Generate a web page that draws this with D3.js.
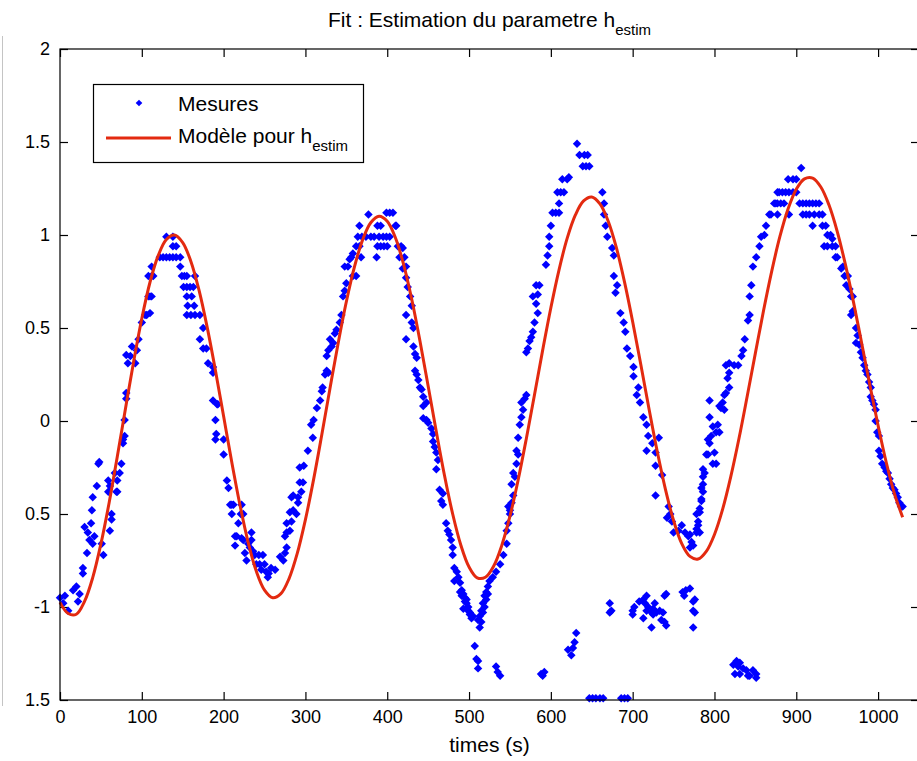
<!DOCTYPE html>
<html>
<head>
<meta charset="utf-8">
<script src="https://cdn.jsdelivr.net/npm/d3@7"></script>
<style>
  body { margin: 0; background: #fff; }
  svg { display: block; }
  text { font-family: Arial, "Liberation Sans", sans-serif; fill: #000; }
</style>
</head>
<body>
<svg></svg>
<script>
const width = 917;
const height = 761;

// ---- data ----
const xTicks = [0, 100, 200, 300, 400, 500, 600, 700, 800, 900, 1000];
const yTicks = [2, 1.5, 1, 0.5, 0, -0.5, -1, -1.5];
const yTickLabels = ['2', '1.5', '1', '0.5', '0', '0.5', '-1', '1.5'];

// fitted model h_estim, one value every 10 s
const modelTimes = [0, 10, 20, 30, 40, 50, 60, 70, 80, 90, 100, 110, 120, 130, 140, 150, 160, 170, 180, 190,
  200, 210, 220, 230, 240, 250, 260, 270, 280, 290, 300, 310, 320, 330, 340, 350, 360, 370, 380, 390,
  400, 410, 420, 430, 440, 450, 460, 470, 480, 490, 500, 510, 520, 530, 540, 550, 560, 570, 580, 590,
  600, 610, 620, 630, 640, 650, 660, 670, 680, 690, 700, 710, 720, 730, 740, 750, 760, 770, 780, 790,
  800, 810, 820, 830, 840, 850, 860, 870, 880, 890, 900, 910, 920, 930, 940, 950, 960, 970, 980, 990,
  1000, 1010, 1020, 1030];
const modelValues = [-0.975, -1.035, -1.039, -0.970, -0.842, -0.661, -0.441, -0.192, 0.066, 0.319,
  0.551, 0.746, 0.889, 0.976, 1.000, 0.959, 0.858, 0.702, 0.502, 0.272,
  0.025, -0.222, -0.452, -0.652, -0.808, -0.909, -0.950, -0.928, -0.847, -0.712,
  -0.530, -0.314, -0.074, 0.175, 0.418, 0.641, 0.830, 0.975, 1.067, 1.101,
  1.074, 0.985, 0.842, 0.653, 0.430, 0.188, -0.058, -0.293, -0.500, -0.668,
  -0.785, -0.843, -0.840, -0.781, -0.669, -0.512, -0.317, -0.095, 0.141, 0.381,
  0.609, 0.813, 0.983, 1.108, 1.183, 1.204, 1.167, 1.075, 0.933, 0.748,
  0.534, 0.302, 0.065, -0.163, -0.366, -0.535, -0.659, -0.728, -0.742, -0.701,
  -0.610, -0.474, -0.298, -0.093, 0.133, 0.365, 0.594, 0.806, 0.992, 1.141,
  1.246, 1.302, 1.306, 1.258, 1.161, 1.020, 0.842, 0.638, 0.417, 0.192,
  -0.024, -0.223, -0.391, -0.517];

// measurements [time, value], grouped by half-cycle
const mesRise1 = [[0,-0.95],[4,-0.98],[10,-1.02],[6,-0.94],[16,-0.91],[20,-0.89],[24,-0.93],[22,-0.97],
  [28,-0.79],[28,-0.82],[33,-0.71],[30,-0.57],[34,-0.6],[38,-0.55],[36,-0.64],[42,-0.62],[40,-0.66],
  [39,-0.48],[40,-0.41],[45,-0.35],[47,-0.23],[48,-0.22],[51,-0.66],[53,-0.72],[59,-0.32],[59,-0.38],
  [63,-0.5],[63,-0.53],[61,-0.59],[70,-0.38],[70,-0.32],[73,-0.28],[75,-0.23],[77,-0.12],[79,-0.08],
  [67,-0.28],[69,-0.38],[61,-0.35],[77,-0.1],[79,0.005],[81,0.15],[81,0.12],[81,0.355],[86,0.35],
  [88,0.40],[83,0.31],[92,0.31],[94,0.38],[96,0.44],[100,0.53],[104,0.57],[106,0.57],[110,0.58],
  [108,0.67],[110,0.67],[112,0.67],[108,0.78],[112,0.78],[114,0.78],[112,0.83],[122,0.88],[126,0.88],
  [130,0.88],[134,0.88],[138,0.88],[142,0.88],[147,0.88],[130,0.99],[138,0.99],[138,0.94],[142,0.94]];
const mesFall1 = [[147,0.83],[149,0.78],[152,0.78],[155,0.78],[151,0.72],[155,0.72],[159,0.72],[163,0.72],
  [155,0.67],[161,0.67],[156,0.62],[164,0.62],[155,0.57],[160,0.57],[165,0.57],[171,0.57],[165,0.78],
  [175,0.50],[171,0.44],[175,0.39],[179,0.39],[181,0.31],[187,0.29],[187,0.26],[187,0.11],[192,0.09],
  [193,0.09],[190,0.005],[191,-0.07],[190,-0.10],[200,-0.10],[200,-0.18],[204,-0.32],[206,-0.36],
  [208,-0.45],[210,-0.45],[212,-0.45],[210,-0.50],[222,-0.45],[221,-0.50],[224,-0.50],[218,-0.55],
  [214,-0.62],[216,-0.62],[222,-0.63],[224,-0.64],[214,-0.67],[226,-0.71],[228,-0.75],[234,-0.60],
  [234,-0.64],[232,-0.68],[238,-0.72],[243,-0.72],[248,-0.72],[240,-0.77],[244,-0.77],[250,-0.77],
  [252,-0.81],[255,-0.82],[254,-0.84],[263,-0.80],[269,-0.73],[277,-0.68],[273,-0.75],[275,-0.71],
  [277,-0.60],[281,-0.59],[277,-0.55],[281,-0.49],[285,-0.48],[289,-0.50],[291,-0.44],[283,-0.41],
  [291,-0.41],[293,-0.25],[293,-0.33],[275,-0.62],[283,-0.54],[285,-0.40],[295,-0.38],[297,-0.33],
  [298,-0.24],[303,-0.16],[309,-0.09],[307,-0.02],[310,0.005],[258,-0.79],[246,-0.80],[236,-0.70],[230,-0.66]];
const mesRise2 = [[314,0.07],[318,0.11],[320,0.16],[321,0.18],[324,0.25],[326,0.27],[328,0.26],[326,0.35],
  [328,0.38],[332,0.40],[330,0.44],[334,0.42],[336,0.47],[338,0.49],[342,0.53],[344,0.57],[346,0.67],
  [348,0.70],[350,0.74],[348,0.83],[352,0.83],[354,0.87],[358,0.78],[362,0.78],[356,0.88],[358,0.90],
  [362,0.94],[366,0.94],[368,0.88],[364,0.99],[369,0.99],[374,0.99],[380,0.99],[384,0.99],[390,0.99],
  [395,0.99],[399,0.99],[403,0.99],[366,1.05],[388,1.05],[392,1.05],[410,1.05],[411,1.05],[377,1.11],
  [399,1.12],[403,1.12],[407,1.12],[388,0.94],[392,0.94],[396,0.94],[400,0.94],[387,0.88]];
const mesFall2 = [[413,0.94],[417,0.94],[419,0.93],[415,0.88],[421,0.88],[423,0.83],[419,0.82],[423,0.77],
  [425,0.72],[428,0.67],[430,0.62],[423,0.57],[430,0.53],[432,0.50],[423,0.44],[432,0.40],[434,0.36],
  [436,0.34],[434,0.27],[436,0.25],[438,0.22],[440,0.18],[442,0.17],[444,0.13],[448,0.10],[444,0.08],
  [444,0.015],[448,0.005],[450,-0.01],[454,-0.04],[456,-0.07],[456,-0.11],[458,-0.14],[460,-0.17],
  [462,-0.21],[460,-0.26],[464,-0.37],[468,-0.39],[466,-0.43],[468,-0.45],[472,-0.55],[474,-0.59],
  [476,-0.61],[478,-0.64],[480,-0.68],[480,-0.72],[482,-0.79],[485,-0.81],[487,-0.84],[482,-0.86],
  [489,-0.87],[491,-0.91],[493,-0.93],[495,-0.95],[497,-0.98],[499,-1.0],[501,-1.03],[505,-1.05],
  [489,-0.92],[491,-0.94],[495,-0.97],[497,-0.96],[493,-1.01],[499,-1.02],[501,-1.04],[503,-1.06],
  [513,-1.11],[515,-1.08],[511,-1.07],[507,-1.21],[509,-1.28],[511,-1.29],[511,-1.33],[533,-1.32],
  [535,-1.35],[538,-1.37]];
const mesRise3 = [[513,-1.05],[515,-1.02],[517,-0.98],[519,-0.94],[521,-0.92],[523,-0.89],[525,-0.86],
  [529,-0.84],[533,-0.81],[538,-0.77],[542,-0.72],[546,-0.66],[548,-0.55],[550,-0.48],[517,-1.03],
  [519,-1.0],[521,-0.96],[523,-0.93],[546,-0.59],[550,-0.50],[548,-0.46],[552,-0.44],[554,-0.40],
  [552,-0.34],[556,-0.30],[554,-0.28],[558,-0.23],[560,-0.18],[558,-0.16],[560,-0.09],[562,-0.02],
  [564,0.02],[566,0.06],[564,0.10],[568,0.12],[570,0.14],[570,0.37],[572,0.39],[574,0.43],[576,0.45],
  [578,0.48],[580,0.53],[584,0.58],[582,0.63],[584,0.68],[578,0.67],[582,0.73],[586,0.73],[594,0.84],
  [596,0.89],[598,0.94],[598,0.99],[600,1.05],[602,1.12],[606,1.12],[610,1.12],[610,1.17],[608,1.23],
  [612,1.23],[616,1.23],[614,1.30],[620,1.30],[622,1.31],[632,1.49],[635,1.43],[641,1.43],[645,1.43],
  [639,1.37],[643,1.37],[647,1.37]];
const mesFall3 = [[663,1.23],[665,1.17],[665,1.11],[667,1.05],[669,0.99],[675,0.93],[677,0.89],[677,0.78],
  [681,0.73],[679,0.69],[685,0.58],[689,0.53],[691,0.48],[693,0.39],[697,0.35],[701,0.29],[701,0.24],
  [707,0.18],[705,0.14],[709,0.10],[713,0.02],[717,-0.02],[719,-0.08],[724,-0.12],[717,-0.16],
  [728,-0.17],[732,-0.09],[728,-0.24],[736,-0.29],[728,-0.40],[744,-0.46],[742,-0.52],[746,-0.50],
  [748,-0.54],[750,-0.60],[756,-0.59],[760,-0.56],[764,-0.60],[768,-0.62],[770,-0.68],[770,-0.61],
  [772,-0.65],[774,-0.67]];
const mesOutliers = [[588,-1.36],[590,-1.37],[592,-1.35],[621,-1.23],[625,-1.26],[627,-1.22],[629,-1.19],
  [631,-1.14],[647,-1.49],[651,-1.49],[655,-1.49],[660,-1.49],[664,-1.49],[686,-1.49],[690,-1.49],
  [694,-1.49],[672,-0.98],[674,-1.02],[672,-1.03],[700,-1.02],[702,-1.0],[700,-1.04],[708,-0.97],
  [713,-0.96],[717,-0.94],[715,-0.98],[719,-1.0],[717,-1.02],[723,-1.03],[725,-1.01],[727,-0.98],
  [725,-1.04],[729,-1.03],[733,-1.02],[737,-1.03],[739,-1.08],[741,-1.10],[735,-1.07],[723,-1.11],
  [713,-1.06],[739,-0.94],[741,-0.93],[761,-0.92],[765,-0.91],[763,-0.94],[774,-0.97],[776,-0.96],
  [774,-1.02],[776,-1.03],[774,-1.11],[770,-0.90],[823,-1.31],[827,-1.29],[829,-1.32],[831,-1.30],
  [835,-1.33],[839,-1.34],[841,-1.37],[847,-1.34],[851,-1.36],[851,-1.38],[825,-1.36],[831,-1.36],[843,-1.37]];
const mesRise4 = [[778,-0.58],[782,-0.60],[780,-0.54],[782,-0.49],[784,-0.43],[786,-0.38],[786,-0.34],
  [788,-0.28],[792,-0.18],[798,-0.23],[802,-0.23],[800,-0.17],[794,-0.12],[796,-0.08],[798,-0.03],
  [802,-0.06],[806,-0.06],[804,-0.02],[794,0.02],[794,0.11],[806,0.08],[808,0.07],[812,0.06],[810,0.10],
  [814,0.15],[818,0.18],[812,0.14],[816,0.23],[818,0.26],[814,0.30],[818,0.31],[824,0.30],[829,0.30],
  [833,0.35],[835,0.38],[837,0.44],[841,0.54],[843,0.57],[843,0.67],[845,0.73],[847,0.83],[851,0.88],
  [855,0.94],[857,0.99],[861,1.00],[863,1.05],[867,1.11],[869,1.11],[873,1.17],[875,1.17],[877,1.23],
  [879,1.23],[883,1.23],[887,1.23],[891,1.23],[896,1.23],[900,1.23],[877,1.17],[881,1.17],[885,1.17],
  [890,1.30],[900,1.30],[896,1.30],[906,1.36],[877,1.11],[891,1.11],[778,-0.60],[780,-0.56],[778,-0.50],
  [782,-0.47],[784,-0.42],[784,-0.36],[786,-0.30],[786,-0.26],[790,-0.18],[792,-0.10]];
const mesFall4 = [[904,1.17],[908,1.17],[912,1.17],[916,1.17],[920,1.17],[924,1.17],[928,1.17],[908,1.11],
  [912,1.11],[916,1.11],[922,1.11],[928,1.11],[932,1.11],[920,1.05],[932,1.05],[936,1.05],[938,1.00],
  [942,1.00],[944,0.98],[934,0.94],[938,0.94],[944,0.94],[948,0.94],[948,0.88],[950,0.88],[955,0.82],
  [957,0.83],[959,0.78],[963,0.78],[961,0.73],[965,0.71],[967,0.67],[969,0.67],[967,0.57],[969,0.59],
  [973,0.50],[975,0.46],[973,0.42],[977,0.41],[979,0.37],[981,0.34],[983,0.30],[985,0.27],[987,0.25],
  [989,0.21],[991,0.18],[991,0.13],[993,0.11],[995,0.09],[997,0.06],[997,0.00],[999,-0.06],[1001,-0.08],
  [1001,-0.16],[1003,-0.19],[1005,-0.23],[1008,-0.25],[1010,-0.27],[1012,-0.28],[1014,-0.31],
  [1016,-0.34],[1018,-0.36],[1020,-0.37],[1022,-0.39],[1024,-0.41],[1026,-0.44],[1028,-0.46],[1030,-0.46]];

const mesures = [].concat(mesRise1, mesFall1, mesRise2, mesFall2, mesRise3, mesFall3,
  mesOutliers, mesRise4, mesFall4);
const model = modelTimes.map((t, i) => [t, modelValues[i]]);

// ---- layout ----
const plot = {left: 60, right: 919, top: 49, bottom: 700};
const blue = '#0000ff';
const red = '#e32a10';

const x = d3.scaleLinear().domain([0, 1050]).range([plot.left, plot.right]);
const y = d3.scaleLinear().domain([-1.5, 2]).range([plot.bottom, plot.top]);

const svg = d3.select('svg')
    .attr('width', width)
    .attr('height', height)
    .attr('viewBox', `0 0 ${width} ${height}`);

svg.append('rect')
    .attr('width', width)
    .attr('height', height)
    .attr('fill', '#fff');

// thin grey window edge on the left
svg.append('line')
    .attr('x1', 2.5).attr('x2', 2.5)
    .attr('y1', 36).attr('y2', 706)
    .attr('stroke', '#c4c4c4');

svg.append('clipPath')
    .attr('id', 'clip')
  .append('rect')
    .attr('x', plot.left - 5)
    .attr('y', plot.top)
    .attr('width', plot.right - plot.left + 5)
    .attr('height', plot.bottom - plot.top + 5);

// axes: MATLAB style, inward ticks on all four sides
const axisBottom = d3.axisBottom(x).tickValues(xTicks).tickSize(-8).tickPadding(10).tickFormat(d3.format('d'));
const axisTop = d3.axisTop(x).tickValues(xTicks).tickSize(-8).tickFormat('');
const axisLeft = d3.axisLeft(y).tickValues(yTicks).tickSize(-8).tickPadding(10)
    .tickFormat((d, i) => yTickLabels[i]);
const axisRight = d3.axisRight(y).tickValues(yTicks).tickSize(-8).tickFormat('');

function styleAxis(g) {
  g.select('.domain').remove();
  g.selectAll('.tick line').attr('stroke', '#000').attr('stroke-width', 1.2);
  g.selectAll('.tick text')
      .attr('fill', '#000')
      .style('font-size', '18px')
      .style('font-family', 'Arial, "Liberation Sans", sans-serif');
}

svg.append('g')
    .attr('transform', `translate(0,${plot.bottom})`)
    .call(axisBottom)
    .call(styleAxis);
svg.append('g')
    .attr('transform', `translate(0,${plot.top})`)
    .call(axisTop)
    .call(styleAxis);
svg.append('g')
    .attr('transform', `translate(${plot.left},0)`)
    .call(axisLeft)
    .call(styleAxis);
svg.append('g')
    .attr('transform', `translate(${plot.right},0)`)
    .call(axisRight)
    .call(styleAxis);

// measurements
const diamond = d3.symbol().type(d3.symbolSquare).size(36);
svg.append('g')
    .attr('clip-path', 'url(#clip)')
  .selectAll('path')
  .data(mesures)
  .enter()
  .append('path')
    .attr('d', diamond)
    .attr('transform', d => `translate(${x(d[0])},${y(d[1])}) rotate(45)`)
    .attr('fill', blue);

// model curve
const line = d3.line()
    .x(d => x(d[0]))
    .y(d => y(d[1]))
    .curve(d3.curveCatmullRom);

svg.append('path')
    .datum(model)
    .attr('d', line)
    .attr('fill', 'none')
    .attr('stroke', red)
    .attr('stroke-width', 3);

// frame
svg.append('rect')
    .attr('x', plot.left)
    .attr('y', plot.top)
    .attr('width', plot.right - plot.left)
    .attr('height', plot.bottom - plot.top)
    .attr('fill', 'none')
    .attr('stroke', '#000')
    .attr('stroke-width', 1.2);

// title
const title = svg.append('text')
    .attr('x', (plot.left + plot.right) / 2)
    .attr('y', 27)
    .attr('text-anchor', 'middle')
    .style('font-size', '21px')
    .text('Fit : Estimation du parametre h');
title.append('tspan')
    .attr('dy', 8)
    .style('font-size', '15px')
    .text('estim');

// x label
svg.append('text')
    .attr('x', (plot.left + plot.right) / 2)
    .attr('y', 752)
    .attr('text-anchor', 'middle')
    .style('font-size', '21px')
    .text('times (s)');

// legend
const legend = svg.append('g');
legend.append('rect')
    .attr('x', 93.5).attr('y', 84.5)
    .attr('width', 270).attr('height', 78)
    .attr('fill', '#fff')
    .attr('stroke', '#000')
    .attr('stroke-width', 1.2);
legend.append('path')
    .attr('d', d3.symbol().type(d3.symbolSquare).size(22))
    .attr('transform', 'translate(139,103) rotate(45)')
    .attr('fill', blue);
legend.append('text')
    .attr('x', 178).attr('y', 111)
    .style('font-size', '21px')
    .text('Mesures');
legend.append('line')
    .attr('x1', 106).attr('x2', 171)
    .attr('y1', 138).attr('y2', 138)
    .attr('stroke', red)
    .attr('stroke-width', 3);
const modelLabel = legend.append('text')
    .attr('x', 178).attr('y', 143)
    .style('font-size', '21px')
    .text('Modèle pour h');
modelLabel.append('tspan')
    .attr('dy', 8)
    .style('font-size', '15px')
    .text('estim');
</script>
</body>
</html>
